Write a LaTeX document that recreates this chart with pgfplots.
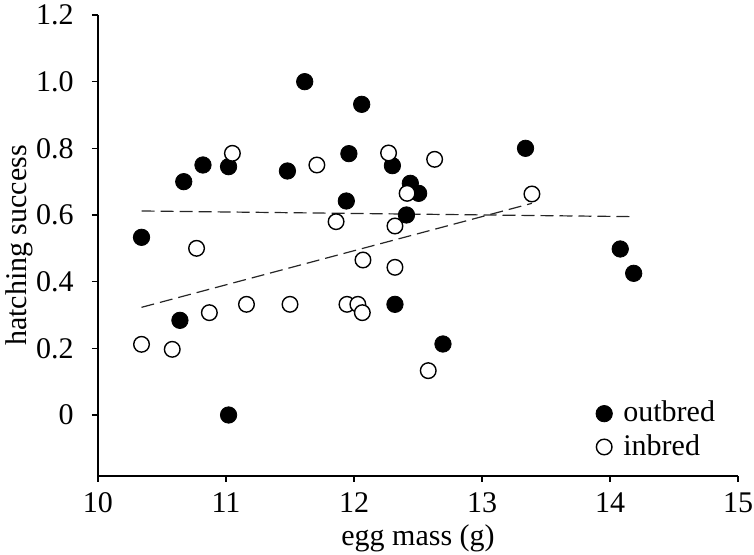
\documentclass[border=0pt]{standalone}
\usepackage{fontspec}
\setmainfont{Liberation Serif}
\usepackage{pgfplots}
\pgfplotsset{compat=1.18}
\begin{document}
\fontsize{15}{18}\selectfont
\begin{tikzpicture}
\begin{axis}[
  scale only axis,
  width=320pt, height=230.5pt,
  xmin=10, xmax=15, ymin=-0.183, ymax=1.2,
  axis x line=bottom, axis y line=left,
  axis line style={-, line width=0.6pt},
  tick align=outside,
  major tick length=3pt,
  tick style={line width=0.6pt, black},
  xtick={10,11,12,13,14,15},
  xticklabels={10,11,12,13,14,15},
  ytick={0,0.2,0.4,0.6,0.8,1.0,1.2},
  yticklabels={0,0.2,0.4,0.6,0.8,1.0,1.2},
  tick label style={font=\fontsize{15}{18}\selectfont},
  yticklabel style={xshift=-4pt},
  label style={font=\fontsize{15}{18}\selectfont},
  xlabel={egg mass (g)},
  ylabel={hatching success},
  xlabel style={at={(axis description cs:0.5,-0.1497)}, anchor=base},
  ylabel style={at={(axis description cs:-0.111,0.5)}, anchor=base},
  clip=false,
  legend style={draw=none, fill=none, inner sep=0pt, at={(axis cs:13.95,-0.046)}, anchor=west, xshift=-4pt,
    font=\fontsize{15}{18}\selectfont, row sep=0pt,
    nodes={inner xsep=1pt, inner ysep=2pt},
    /tikz/every odd column/.append style={column sep=4.5pt},
    /tikz/every even column/.append style={column sep=0pt}},
  legend cell align=left,
]
% regression lines
\addplot[forget plot, dash pattern=on 6.5pt off 3pt, line width=0.6pt, black!85] coordinates {(10.34,0.612) (14.18,0.595)};
\addplot[forget plot, dash pattern=on 6.5pt off 3pt, line width=0.6pt, black!85] coordinates {(10.34,0.323) (13.39,0.635)};
% outbred
\addplot[only marks, mark=*, mark size=4.1pt, mark options={fill=black, draw=black}] coordinates {
(10.34,0.533) (10.64,0.284) (10.67,0.70) (10.82,0.75) (11.02,0.745) (11.02,0.0)
(11.48,0.732) (11.615,1.0) (11.94,0.642) (11.96,0.784) (12.06,0.932) (12.30,0.748)
(12.32,0.332) (12.41,0.60) (12.44,0.695) (12.505,0.665) (12.695,0.213) (13.34,0.80)
(14.08,0.498) (14.185,0.425)
};
\addlegendentry{outbred}
% inbred
\addplot[only marks, mark=*, mark size=3.9pt, mark options={fill=white, draw=black, line width=0.7pt}] coordinates {
(10.34,0.212) (10.58,0.197) (10.77,0.50) (10.87,0.307) (11.05,0.785) (11.16,0.332)
(11.50,0.332) (11.71,0.75) (11.86,0.58) (11.945,0.332) (12.03,0.332) (12.065,0.307)
(12.07,0.465) (12.27,0.786) (12.32,0.567) (12.32,0.443) (12.415,0.665) (12.58,0.133)
(12.63,0.767) (13.39,0.663)
};
\addlegendentry{inbred}
\coordinate (A) at (rel axis cs:0,0);
\coordinate (B) at (rel axis cs:1,1);
\end{axis}
\pgfresetboundingbox
\path ([shift={(-49pt,-39.5pt)}]A) rectangle ([shift={(8pt,7.5pt)}]B);
\end{tikzpicture}
\end{document}
